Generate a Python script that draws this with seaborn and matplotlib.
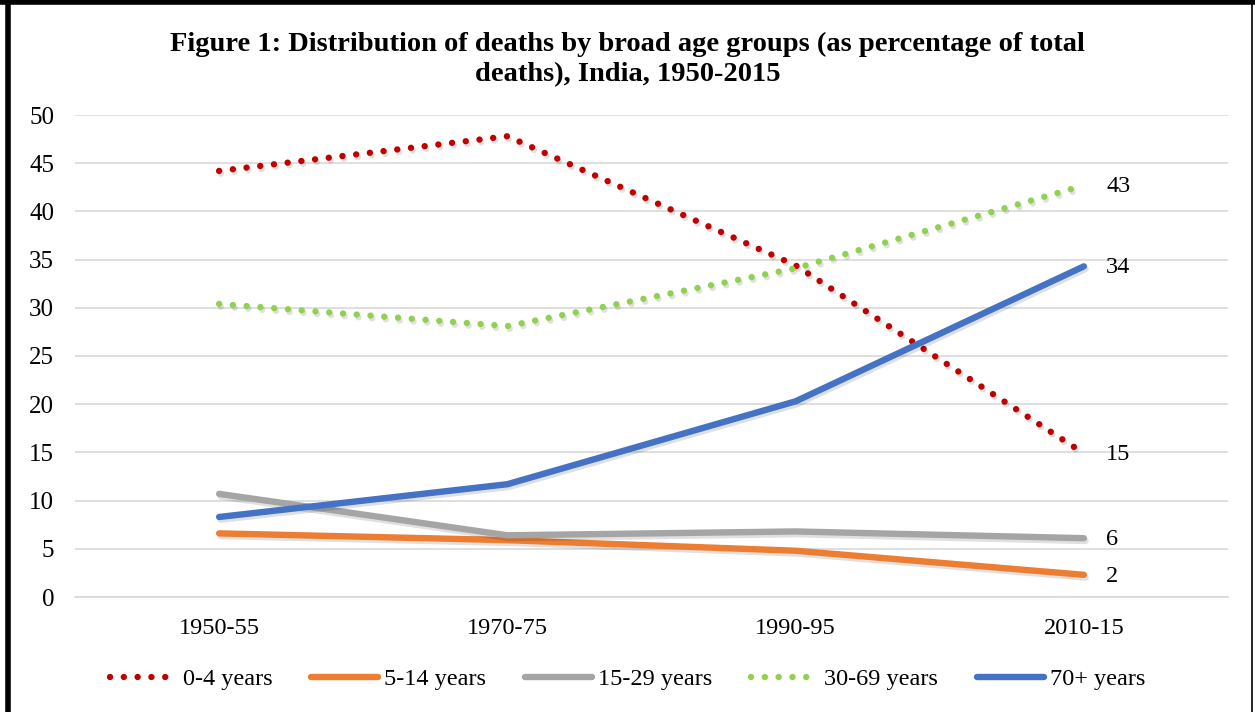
import matplotlib
matplotlib.use("Agg")
import matplotlib.pyplot as plt
import matplotlib.patheffects as pe
from matplotlib.lines import Line2D
import seaborn as sns
import pandas as pd

# ---- data ----
periods = ["1950-55", "1970-75", "1990-95", "2010-15"]
age_0_4 = [44.2, 47.8, 34.4, 14.9]
age_5_14 = [6.6, 5.9, 4.8, 2.3]
age_15_29 = [10.7, 6.4, 6.8, 6.1]
age_30_69 = [30.4, 28.1, 34.1, 42.7]
age_70_plus = [8.3, 11.7, 20.3, 34.3]

groups = ["0-4 years", "5-14 years", "15-29 years", "30-69 years", "70+ years"]
colors = ["#C00000", "#ED7D31", "#A5A5A5", "#92D050", "#4472C4"]
dotted = [True, False, False, True, False]
series = [age_0_4, age_5_14, age_15_29, age_30_69, age_70_plus]

rows = []
for g, vals in zip(groups, series):
    for i, (p, v) in enumerate(zip(periods, vals)):
        rows.append({"Group": g, "Period": p, "pos": i, "Value": v})
df = pd.DataFrame(rows)

sns.set_theme(style="white")
plt.rcParams["font.family"] = ["Liberation Serif", "DejaVu Serif"]
plt.rcParams["text.color"] = "black"

fig = plt.figure(figsize=(12.55, 7.12), dpi=100)
ax = fig.add_axes([75 / 1255, 1 - 597 / 712, (1228 - 75) / 1255, (597 - 115) / 712])

LW = 4.6
DOTS = (0, (0.01, 2.15))                                             # round-capped dots
shadow = [pe.SimpleLineShadow(offset=(1.2, -2.0), shadow_color="black", alpha=0.12), pe.Normal()]
handles = []
for g, c, d in zip(groups, colors, dotted):
    sub = df[df["Group"] == g]
    sns.lineplot(data=sub, x="pos", y="Value", ax=ax, color=c, linewidth=LW, legend=False,
                 sort=False)
    line = ax.lines[-1]
    if d:
        line.set_linestyle(DOTS)
    line.set_dash_capstyle("round")
    line.set_solid_capstyle("round")
    line.set_solid_joinstyle("round")
    line.set_path_effects(shadow)
    h = Line2D([], [], color=c, linewidth=LW, linestyle=DOTS if d else "-")
    h.set_dash_capstyle("round")
    h.set_solid_capstyle("round")
    handles.append(h)
    last = sub["Value"].iloc[-1]                                     # end label, rounded
    ax.annotate(f"{last:.0f}", xy=(3, last), xytext=(16, -1), textcoords="offset points",
                ha="left", va="center", fontsize=17.5, color="black")

ax.set_xlim(-0.5, 3.5)
ax.set_ylim(0, 50)
ax.set_yticks(range(0, 51, 5))
ax.set_xticks(range(len(periods)))
ax.set_xticklabels(periods)
ax.set_xticks([-0.5, 0.5, 1.5, 2.5, 3.5], minor=True)
ax.tick_params(axis="x", which="major", length=0, pad=15, labelsize=17.5, labelcolor="black")
ax.tick_params(axis="x", which="minor", length=9, width=1.2, color="#D9D9D9", direction="out")
ax.tick_params(axis="y", length=0, pad=15, labelsize=18, labelcolor="black")
ax.grid(axis="y", color="#D9D9D9", linewidth=1.2)
ax.set_axisbelow(True)
for s in ["top", "right", "left"]:
    ax.spines[s].set_visible(False)
ax.spines["bottom"].set_color("#D9D9D9")
ax.spines["bottom"].set_linewidth(1.2)
ax.set_xlabel("")
ax.set_ylabel("")

fig.text(0.5, 1 - 32 / 712,
         "Figure 1: Distribution of deaths by broad age groups (as percentage of total\ndeaths), India, 1950-2015",
         ha="center", va="top", fontsize=20.5, fontweight="bold", linespacing=1.27, color="black")

fig.legend(handles, groups, loc="center", bbox_to_anchor=(0.5, 1 - 679 / 712), ncol=5,
           frameon=False, fontsize=17.5, handlelength=2.75, columnspacing=1.6, handletextpad=0.25,
           labelcolor="black")

# figure border
fig.add_artist(Line2D([8 / 1255, 8 / 1255], [0, 1], transform=fig.transFigure, color="black", lw=4))
fig.add_artist(Line2D([0, 1], [1 - 2 / 712, 1 - 2 / 712], transform=fig.transFigure, color="black", lw=4))
fig.add_artist(Line2D([1252 / 1255, 1252 / 1255], [0, 1], transform=fig.transFigure, color="black", lw=1.2))

fig.savefig("out.png", dpi=100)
